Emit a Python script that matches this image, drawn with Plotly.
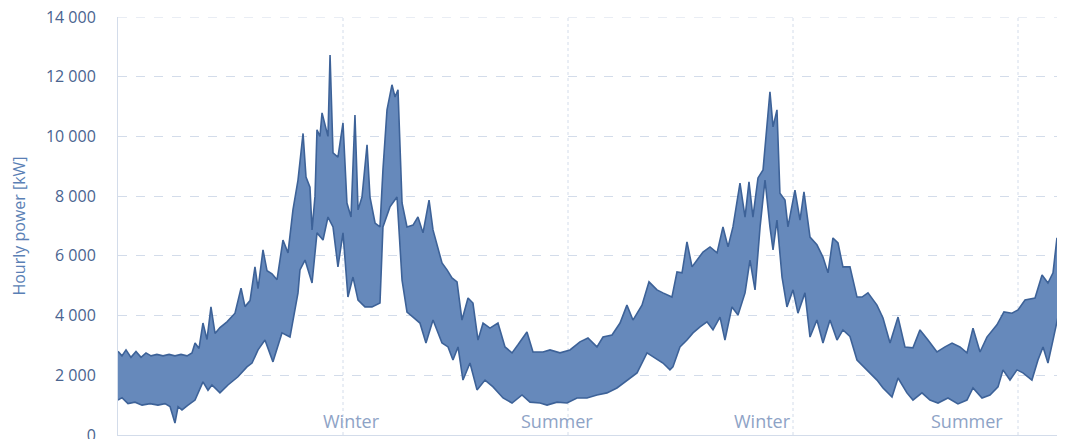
import plotly.graph_objects as go

# Day index (0 = start of record) and upper / lower envelope of hourly power [kW]
upper_day = [0, 3.2, 6.5, 10.5, 14.6, 18.7, 22.7, 26.8, 31.6, 36.5, 41.4, 46.2, 51.1, 56.0, 60.0,
             62.5, 65.7, 68.9, 72.2, 75.4, 78.7, 82.7, 88.4, 94.9, 99.8, 103.0, 107.1, 111.1, 113.6,
             117.6, 120.9, 124.9, 129.0, 133.8, 137.9, 141.9, 146.0, 150.1, 152.5, 155.7, 157.4,
             159.8, 161.4, 163.8, 165.5, 168.7, 170.3, 172.0, 174.4, 178.4, 182.5, 185.7, 189.0,
             192.2, 194.7, 197.9, 202.0, 204.4, 208.5, 212.5, 214.9, 218.2, 222.2, 224.7, 227.1,
             230.4, 234.4, 239.3, 243.3, 247.4, 252.3, 255.5, 259.6, 262.8, 266.9, 270.9, 275.0,
             279.0, 283.9, 287.9, 292.0, 296.1, 301.7, 308.2, 313.9, 319.6, 324.4, 331.7, 336.6,
             344.7, 350.4, 358.5, 366.6, 374.7, 381.2, 388.5, 393.4, 400.7, 407.2, 412.8, 417.7,
             425.0, 430.7, 437.2, 442.0, 449.3, 453.4, 457.5, 461.5, 465.6, 469.7, 474.5, 480.2,
             485.9, 490.7, 494.8, 498.8, 504.5, 508.6, 511.8, 515.0, 519.1, 523.2, 526.4, 528.8,
             531.3, 534.5, 536.9, 541.0, 543.4, 549.1, 553.2, 556.4, 561.3, 566.9, 571.8, 575.9,
             579.9, 584.0, 588.0, 593.7, 599.4, 603.5, 608.3, 615.6, 620.5, 626.2, 632.7, 638.3,
             644.8, 650.5, 657.0, 664.3, 670.8, 676.5, 682.9, 688.6, 693.5, 699.2, 704.8, 712.9,
             718.6, 725.1, 730.0, 735.7, 743.8, 749.5, 754.3, 758.4, 761.6, 765.7]
upper_kw = [2800, 2650, 2850, 2600, 2800, 2600, 2750, 2650, 2700, 2650, 2700, 2650, 2700, 2650, 2750,
            3080, 2900, 3750, 3200, 4290, 3400, 3600, 3790, 4080, 4920, 4300, 4500, 5630, 4900,
            6200, 5500, 5400, 5200, 6530, 6100, 7540, 8540, 10100, 8640, 8300, 6870,
            8000, 10220, 10000, 10790, 10200, 10000, 12730, 9450, 9310, 10450, 7770, 7300,
            10720, 7540, 7970, 9720, 7970, 7100, 6970, 8880, 10890, 11730, 11320, 11560,
            7770, 6970, 7030, 7300, 6770, 7870, 6870, 6200, 5760, 5530, 5260, 5130,
            3850, 4590, 4420, 3180, 3750, 3580, 3750, 2950, 2750, 3020, 3450, 2780,
            2780, 2850, 2750, 2850, 3120, 3250, 2950, 3280, 3350, 3750, 4350, 3850,
            4350, 5130, 4860, 4760, 4620, 5460, 5430, 6470, 5630, 5860, 6130, 6300,
            6100, 6970, 6300, 6970, 8440, 7300, 8480, 7300, 8610, 8880, 10320, 11490,
            10320, 10890, 8100, 7870, 6970, 8200, 7200, 8140, 6630, 6370, 5960, 5430,
            6600, 6430, 5630, 5630, 4620, 4620, 4760, 4350, 3920, 3080, 3950, 2950,
            2920, 3520, 3180, 2780, 2950, 3080, 2950, 2750, 3580, 2780, 3280, 3690,
            4120, 4080, 4190, 4520, 4590, 5360, 5090, 5430, 6600, 5930]

lower_day = [0, 3.2, 8.1, 13.8, 19.5, 26.0, 32.4, 38.1, 42.2, 46.2, 48.7, 51.9, 56.8, 62.5, 68.9,
             73.0, 76.2, 82.7, 89.2, 97.3, 104.6, 108.7, 113.6, 119.2, 125.7, 133.0, 139.5, 146.0,
             147.6, 151.7, 157.4, 161.4, 166.3, 170.3, 174.4, 178.4, 182.5, 186.5, 190.6, 194.7,
             200.3, 206.0, 212.5, 214.9, 220.6, 226.3, 230.4, 234.4, 239.3, 244.9, 249.8, 255.5,
             262.8, 267.7, 271.7, 275.8, 279.8, 285.5, 291.2, 297.7, 304.2, 312.3, 319.6, 327.7,
             334.2, 342.3, 348.0, 356.1, 364.2, 372.3, 380.4, 388.5, 396.6, 404.7, 412.8, 421.0,
             429.1, 435.6, 442.0, 447.7, 450.1, 455.8, 461.5, 466.4, 472.1, 477.7, 482.6, 488.3,
             492.3, 498.0, 502.9, 508.6, 512.6, 516.7, 520.8, 524.8, 528.8, 531.3, 534.5, 538.6,
             542.6, 547.5, 551.5, 557.2, 561.3, 566.9, 571.8, 577.5, 583.2, 588.0, 593.7, 599.4,
             604.3, 609.9, 615.6, 620.5, 627.8, 632.7, 639.9, 644.8, 652.1, 658.6, 665.1, 673.2,
             681.3, 688.6, 693.5, 700.8, 707.3, 713.8, 717.8, 723.5, 729.2, 734.0, 741.3, 746.2,
             750.3, 754.3, 758.4, 762.4, 765.7]
lower_kw = [1170, 1250, 1050, 1100, 1000, 1050, 1000, 1050, 950, 400, 950, 840, 1000, 1170, 1780,
            1500, 1675, 1410, 1675, 1950, 2280, 2410, 2850, 3180, 2450, 3420, 3280, 4760,
            5530, 5860, 5090, 6770, 6530, 7300, 6970, 5630, 6770, 4620, 5290, 4520,
            4290, 4290, 4420, 6970, 7640, 7970, 5190, 4120, 3950, 3750, 3080, 3850,
            3080, 2950, 2510, 2950, 1840, 2410, 1510, 1840, 1610, 1240, 1070, 1340,
            1100, 1070, 1000, 1100, 1070, 1240, 1240, 1340, 1410, 1575, 1840, 2080,
            2750, 2580, 2410, 2180, 2280, 2950, 3180, 3420, 3620, 3790, 3520, 3950,
            3180, 4290, 4020, 4760, 5860, 4860, 6970, 8540, 6970, 6200, 7200, 5290,
            4290, 4860, 4080, 4760, 3280, 3850, 3080, 3850, 3180, 3520, 3300, 2510,
            2280, 2080, 1840, 1575, 1270, 1910, 1410, 1170, 1410, 1170, 1070, 1240,
            1040, 1170, 1575, 1240, 1340, 1610, 2180, 1840, 2180, 2080, 1840, 2510,
            2950, 2410, 3180, 3950, 3750]

season_labels = ["Winter", "Summer", "Winter", "Summer"]
season_label_day = [189, 356, 523, 689]
season_grid_day = [182.5, 365, 547.5, 730]
y_ticks = [0, 2000, 4000, 6000, 8000, 10000, 12000, 14000]
y_ticktext = ["0", "2 000", "4 000", "6 000", "8 000", "10 000", "12 000", "14 000"]

poly_x = upper_day + lower_day[::-1]
poly_y = upper_kw + lower_kw[::-1]

fig = go.Figure()
fig.add_trace(go.Scatter(
    x=poly_x, y=poly_y, mode="lines", fill="toself",
    fillcolor="#6689bb", line=dict(color="#3d6298", width=1.6),
    hoverinfo="skip", showlegend=False,
))

grid_col = "#d3dcea"
for d in season_grid_day:
    fig.add_shape(type="line", xref="x", yref="paper", x0=d, x1=d, y0=0, y1=1,
                  line=dict(color=grid_col, width=1, dash="dot"), layer="below")
# top gridline at the end of the value range
fig.add_shape(type="line", xref="paper", yref="y", x0=0, x1=1, y0=y_ticks[-1], y1=y_ticks[-1],
              line=dict(color=grid_col, width=1, dash="dash"), layer="below")

for lab, d in zip(season_labels, season_label_day):
    fig.add_annotation(x=d, y=0, xref="x", yref="y", text=lab, showarrow=False,
                       yanchor="bottom", yshift=0,
                       font=dict(family="Open Sans, sans-serif", size=18, color="#8ea3c6"))

fig.update_layout(
    width=1065, height=439,
    margin=dict(l=110, r=10, t=9, b=12, autoexpand=False),
    plot_bgcolor="white", paper_bgcolor="white",
    font=dict(family="Open Sans, sans-serif"),
    xaxis=dict(range=[0, 766.5], showgrid=False, showticklabels=False, zeroline=False,
               showline=True, linecolor=grid_col, linewidth=1, mirror=False, ticks=""),
    yaxis=dict(range=[0, 14000], tickvals=y_ticks, ticktext=y_ticktext,
               showgrid=True, gridcolor=grid_col, griddash="dash", gridwidth=1,
               zeroline=False, showline=True, linecolor=grid_col, linewidth=1,
               ticks="", ticklabelstandoff=18, ticklabeloverflow="allow",
               tickfont=dict(size=16, color="#4a6490"),
               title=dict(text="Hourly power [kW]", standoff=18,
                          font=dict(size=16, color="#5a7fb5"))),
)

fig.write_html("out.html")
